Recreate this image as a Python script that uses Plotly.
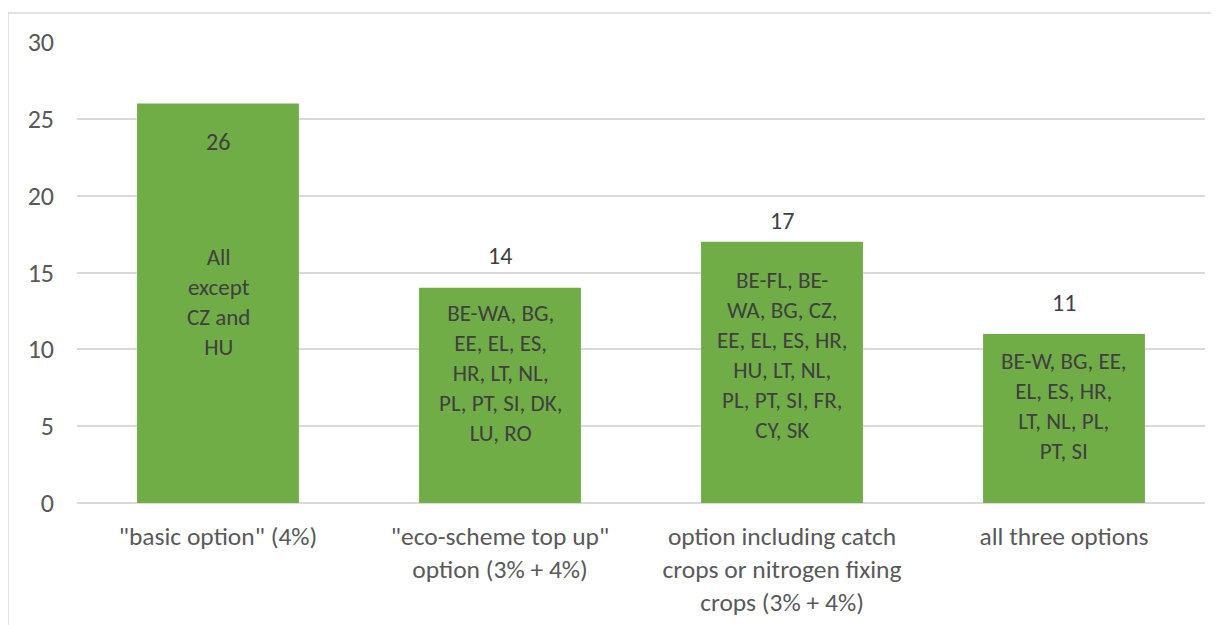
import plotly.graph_objects as go

categories = ['"basic option" (4%)',
              '"eco-scheme top up"<br>option (3% + 4%)',
              'option including catch<br>crops or nitrogen fixing<br>crops (3% + 4%)',
              'all three options']
values = [26, 14, 17, 11]
member_states = ["All<br>except<br>CZ and<br>HU",
                 "BE-WA, BG,<br>EE, EL, ES,<br>HR, LT, NL,<br>PL, PT, SI, DK,<br>LU, RO",
                 "BE-FL, BE-<br>WA, BG, CZ,<br>EE, EL, ES, HR,<br>HU, LT, NL,<br>PL, PT, SI, FR,<br>CY, SK",
                 "BE-W, BG, EE,<br>EL, ES, HR,<br>LT, NL, PL,<br>PT, SI"]
y_ticks = [0, 5, 10, 15, 20, 25, 30]

# label placement styles (pixel offsets relative to bar top)
value_shift = [-38, 32, 21, 31]
text_shift = [-138, -9, -22, -11]

FONT = "Calibri, Carlito, Lato, sans-serif"
TXT = "#404040"

fig = go.Figure(go.Bar(x=categories, y=values, marker_color="#70AD47",
                       marker_line_width=0, width=0.574, hoverinfo="skip"))

for i, (c, v, t) in enumerate(zip(categories, values, member_states)):
    fig.add_annotation(x=c, y=v, text=str(v), showarrow=False, yanchor="middle",
                       yshift=value_shift[i], font=dict(family=FONT, size=24, color=TXT))
    fig.add_annotation(x=c, y=v, text=t, showarrow=False, yanchor="top",
                       yshift=text_shift[i], font=dict(family=FONT, size=23, color=TXT))

# chart frame
fig.add_shape(type="rect", xref="paper", yref="paper", x0=-0.0612, x1=1.2, y0=-0.6, y1=1.063,
              line=dict(color="#D9D9D9", width=1.5), layer="below")

fig.update_layout(
    width=1211, height=617,
    margin=dict(l=69, r=14, t=34, b=122),
    paper_bgcolor="white", plot_bgcolor="white",
    showlegend=False,
    font=dict(family=FONT, color="#595959", size=26),
    xaxis=dict(showgrid=False, showline=False, ticks="", tickfont=dict(size=25.5, color="#595959"),
               ticklabelstandoff=15, automargin=False),
    yaxis=dict(range=[0, 30], tickvals=y_ticks, showgrid=True, gridcolor="#D9D9D9", gridwidth=1.5,
               zeroline=True, zerolinecolor="#D9D9D9", zerolinewidth=1.5, showline=False,
               tickfont=dict(size=26, color="#595959"), ticklabelstandoff=22, automargin=False),
)

fig.write_html("out.html")
